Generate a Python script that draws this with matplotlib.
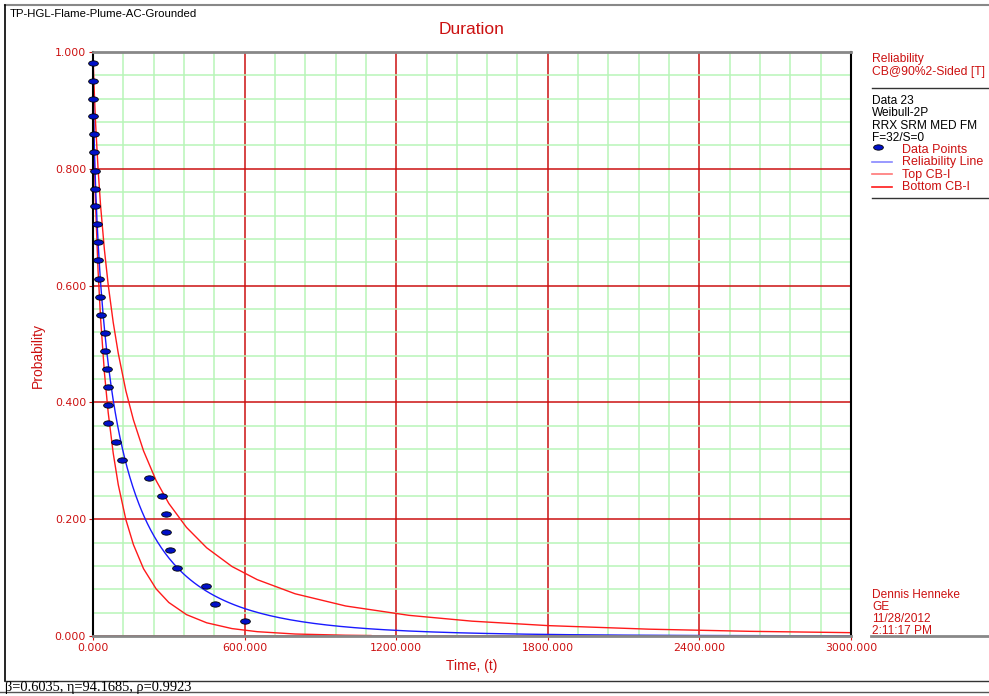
import matplotlib
matplotlib.use('Agg')
import matplotlib.pyplot as plt
import numpy as np
from matplotlib.lines import Line2D
from matplotlib.path import Path

# weibull-2p fit from the footer
beta = 0.6035
eta = 94.1685
rho = 0.9923

# data points (time, reliability)
point_time = [0.1, 0.3, 1, 1.5, 3, 4, 6, 6.5, 7, 14, 20, 21, 22, 27, 30, 47,
              49, 54, 58, 59, 60, 92, 113, 221, 275, 288, 290, 304, 334, 449,
              483, 600]
point_rel = [0.982, 0.951, 0.920, 0.890, 0.859, 0.828, 0.797, 0.766, 0.736,
             0.705, 0.674, 0.643, 0.612, 0.581, 0.550, 0.519, 0.488, 0.457,
             0.426, 0.395, 0.364, 0.333, 0.302, 0.271, 0.240, 0.209, 0.178,
             0.147, 0.116, 0.086, 0.055, 0.025]

# 90% 2-sided confidence bounds
top_time = [0, 0.5, 2, 5, 10, 20, 30, 45, 60, 80, 100, 130, 160, 200, 250,
            300, 370, 450, 550, 650, 800, 1000, 1250, 1500, 1800, 2200, 2600,
            3000]
top_rel = [1.0, 0.992, 0.969, 0.932, 0.880, 0.800, 0.737, 0.662, 0.602, 0.537,
           0.484, 0.420, 0.370, 0.317, 0.266, 0.227, 0.186, 0.151, 0.119,
           0.0965, 0.0723, 0.0514, 0.0354, 0.0254, 0.0178, 0.0117, 0.0080,
           0.0057]
bottom_time = [0, 0.5, 2, 5, 10, 20, 30, 45, 60, 80, 100, 130, 160, 200, 250,
               300, 370, 450, 550, 650, 800, 1000, 1100]
bottom_rel = [1.0, 0.952, 0.894, 0.823, 0.740, 0.626, 0.544, 0.452, 0.383,
              0.313, 0.259, 0.1994, 0.1564, 0.1152, 0.0806, 0.0574, 0.0366,
              0.0226, 0.0127, 0.0074, 0.0034, 0.0013, 0.0008]

x_ticks = [0, 600, 1200, 1800, 2400, 3000]
y_ticks = [0, 0.2, 0.4, 0.6, 0.8, 1.0]

legend_head = ['Reliability', 'CB@90%2-Sided [T]']
legend_info = ['Data 23', 'Weibull-2P', 'RRX SRM MED FM', 'F=32/S=0']
legend_labels = ['Data Points', 'Reliability Line', 'Top CB-I', 'Bottom CB-I']
user_info = ['Dennis Henneke', 'GE', '11/28/2012', '2:11:17 PM']

RED = '#cc1111'
W, H = 989, 696

plt.rcParams['font.family'] = ['Liberation Sans', 'DejaVu Sans']


def fx(x):
    return x / W


def fy(y):
    return 1 - y / H


fig = plt.figure(figsize=(W / 100, H / 100), dpi=100)
ax = fig.add_axes([fx(93), fy(636), (851 - 93) / W, (636 - 52) / H])

# grid: green minor, red major
ax.set_xticks(x_ticks)
ax.set_xticks(np.arange(0, 3001, 120), minor=True)
ax.set_yticks(y_ticks)
ax.set_yticks(np.arange(0, 1.001, 0.04), minor=True)
ax.grid(which='minor', color='#b8f5b8', lw=1.1)
ax.grid(which='major', color=RED, lw=1.1)
ax.set_axisbelow(True)
ax.set_xlim(0, 3000)
ax.set_ylim(0, 1)
ax.set_xticklabels([f'{v:.3f}' for v in x_ticks], family='DejaVu Sans')
ax.set_yticklabels([f'{v:.3f}' for v in y_ticks], family='DejaVu Sans')
ax.tick_params(which='major', direction='out', length=3, color=RED,
               labelcolor=RED, labelsize=7.8, pad=2)
ax.tick_params(which='minor', length=0)

for side in ['top', 'bottom']:
    ax.spines[side].set_color('#888888')
    ax.spines[side].set_linewidth(2)
for side in ['left', 'right']:
    ax.spines[side].set_color('black')
    ax.spines[side].set_linewidth(1.5)

# reliability line from the fitted parameters
t = np.concatenate([[0], np.geomspace(0.001, 3000, 800)])
rel_line = np.exp(-(t / eta) ** beta)
ax.plot(top_time, top_rel, color='#ff1a1a', lw=1)
ax.plot(bottom_time, bottom_rel, color='#ff1a1a', lw=1)
ax.plot(t, rel_line, color='#1a1aff', lw=1)

# ellipse marker for points
circle = Path.unit_circle()
ellipse = Path(circle.vertices * [1, 0.55], circle.codes)
ax.plot(point_time, point_rel, ls='none', marker=ellipse, ms=7,
        mfc='#0010c8', mec='black', mew=0.6, clip_on=False, zorder=5)

# titles and labels
fig.text(fx(10), fy(14), 'TP-HGL-Flame-Plume-AC-Grounded', fontsize=8.2, va='center')
fig.text(fx(472), fy(29), 'Duration', fontsize=12.5, color=RED, ha='center', va='center')
fig.text(fx(472), fy(666), 'Time, (t)', fontsize=10, color=RED, ha='center', va='center')
fig.text(fx(38), fy(355), 'Probability', fontsize=10, color=RED, ha='center',
         va='center', rotation=90)

# right side panel
for i, s in enumerate(legend_head):
    fig.text(fx(872), fy(59 + 12.5 * i), s, fontsize=8.7, color=RED, va='center')
for i, s in enumerate(legend_info):
    fig.text(fx(872), fy(101 + 12.3 * i), s, fontsize=8.6, va='center')
for i, s in enumerate(legend_labels):
    fig.text(fx(902), fy(150 + 12.4 * i), s, fontsize=9, color=RED, va='center')
for i, s in enumerate(user_info):
    fig.text(fx(872), fy(595 + 12 * i), s, fontsize=8.6, color=RED, va='center')

fig.add_artist(Line2D([fx(878)], [fy(147)], ls='none', marker=ellipse, ms=7,
                      mfc='#0010c8', mec='black', mew=0.6))
fig.add_artist(Line2D([fx(872), fx(892)], [fy(162), fy(162)], color='#8888ff', lw=1.2))
fig.add_artist(Line2D([fx(872), fx(892)], [fy(174), fy(174)], color='#ff7777', lw=1.2))
fig.add_artist(Line2D([fx(872), fx(892)], [fy(186.5), fy(186.5)], color='#ff1a1a', lw=1.2))
for yy in [88, 198]:
    fig.add_artist(Line2D([fx(872), fx(988)], [fy(yy), fy(yy)], color='#333333', lw=1))
fig.add_artist(Line2D([fx(871), fx(988)], [fy(636), fy(636)], color='#888888', lw=2))

# outer frame and footer
fig.add_artist(Line2D([fx(5), fx(988)], [fy(5), fy(5)], color='#888888', lw=1.5))
fig.add_artist(Line2D([fx(5), fx(5)], [fy(5), fy(681)], color='black', lw=1.2))
fig.add_artist(Line2D([fx(5), fx(988)], [fy(681), fy(681)], color='#333333', lw=1))
fig.add_artist(Line2D([fx(0), fx(988)], [fy(692), fy(692)], color='#555555', lw=1))
fig.text(fx(5), fy(687), f'\u03b2={beta}, \u03b7={eta}, \u03c1={rho}', fontsize=10.4,
         va='center', family=['Liberation Serif', 'DejaVu Serif'])

plt.savefig('out.png', dpi=100)
plt.close()
